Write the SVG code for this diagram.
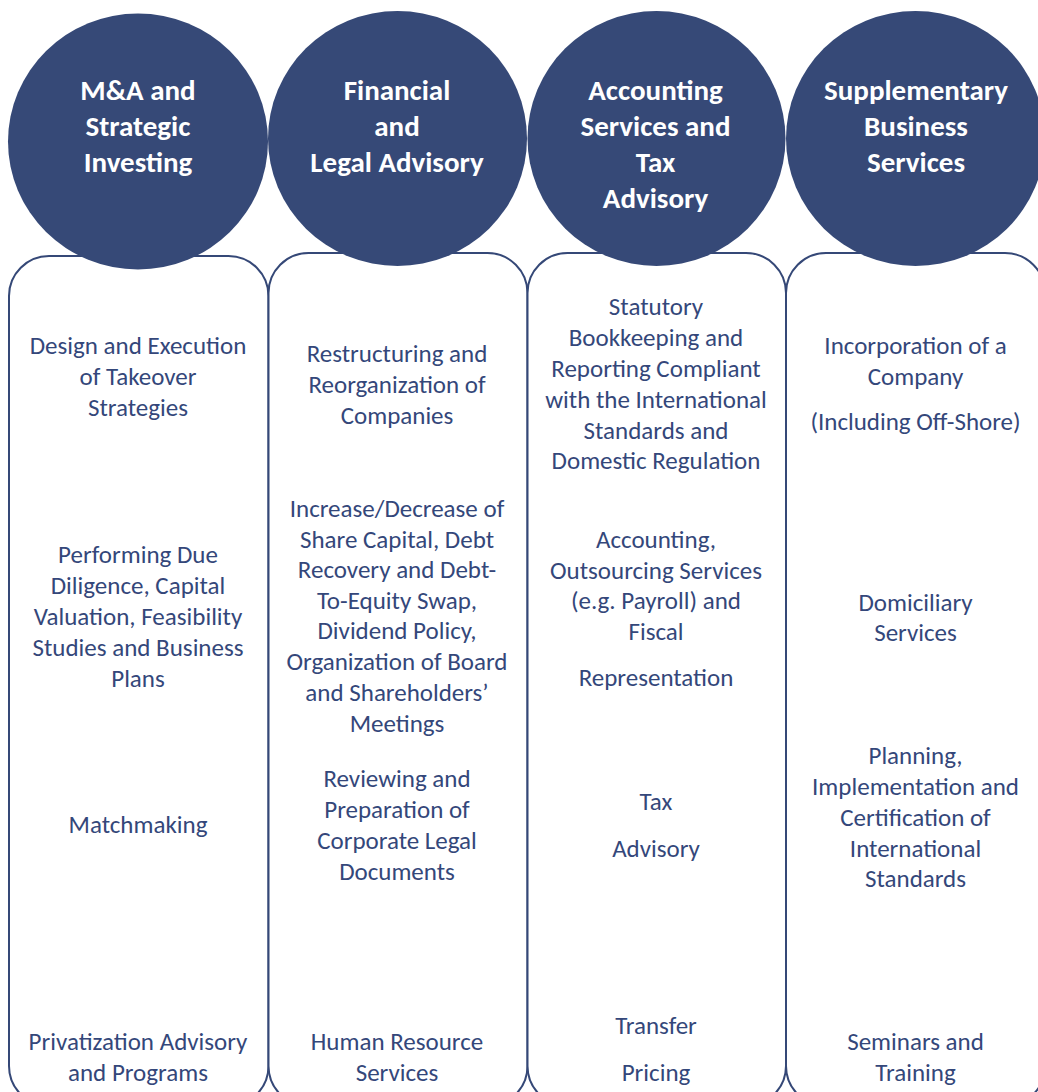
<svg xmlns="http://www.w3.org/2000/svg" width="1038" height="1092" viewBox="0 0 1038 1092">
<style>
.bg{fill:#ffffff}
.box{fill:#ffffff;stroke:#354877;stroke-width:2}
.circ{fill:#364977}
.head{font-family:Calibri,Carlito,"Liberation Sans",Arial,sans-serif;font-weight:bold;font-size:29px;fill:#ffffff;text-anchor:middle}
.body{font-family:Calibri,Carlito,"Liberation Sans",Arial,sans-serif;font-size:25px;fill:#34477a;text-anchor:middle}
</style>
<rect class="bg" x="0" y="0" width="1038" height="1092"/>

<g id="col-ma">
  <rect class="box" x="9" y="256" width="259.5" height="850" rx="40" ry="40"/>
  <ellipse class="circ" cx="138" cy="141.5" rx="130" ry="128"/>
  <text class="head"><tspan x="138" y="100">M&amp;A and</tspan><tspan x="138" y="136">Strategic</tspan><tspan x="138" y="172">Investing</tspan></text>
  <text class="body"><tspan x="138" y="354">Design and Execution</tspan><tspan x="138" y="385">of Takeover</tspan><tspan x="138" y="416">Strategies</tspan></text>
  <text class="body"><tspan x="138" y="563">Performing Due</tspan><tspan x="138" y="594">Diligence, Capital</tspan><tspan x="138" y="625">Valuation, Feasibility</tspan><tspan x="138" y="656">Studies and Business</tspan><tspan x="138" y="687">Plans</tspan></text>
  <text class="body"><tspan x="138" y="833">Matchmaking</tspan></text>
  <text class="body"><tspan x="138" y="1050">Privatization Advisory</tspan><tspan x="138" y="1081">and Programs</tspan></text>
</g>

<g id="col-fin">
  <rect class="box" x="268.5" y="253" width="259" height="853" rx="40" ry="40"/>
  <ellipse class="circ" cx="397.5" cy="138.5" rx="129.5" ry="127.5"/>
  <text class="head"><tspan x="397" y="100">Financial</tspan><tspan x="397" y="136">and</tspan><tspan x="397" y="172">Legal Advisory</tspan></text>
  <text class="body"><tspan x="397" y="362">Restructuring and</tspan><tspan x="397" y="393">Reorganization of</tspan><tspan x="397" y="424">Companies</tspan></text>
  <text class="body"><tspan x="397" y="517">Increase/Decrease of</tspan><tspan x="397" y="547.5">Share Capital, Debt</tspan><tspan x="397" y="578">Recovery and Debt-</tspan><tspan x="397" y="608.5">To-Equity Swap,</tspan><tspan x="397" y="639">Dividend Policy,</tspan><tspan x="397" y="670">Organization of Board</tspan><tspan x="397" y="700.5">and Shareholders’</tspan><tspan x="397" y="731.5">Meetings</tspan></text>
  <text class="body"><tspan x="397" y="787">Reviewing and</tspan><tspan x="397" y="818">Preparation of</tspan><tspan x="397" y="849">Corporate Legal</tspan><tspan x="397" y="880">Documents</tspan></text>
  <text class="body"><tspan x="397" y="1050">Human Resource</tspan><tspan x="397" y="1081">Services</tspan></text>
</g>

<g id="col-acc">
  <rect class="box" x="527.5" y="253" width="258.5" height="853" rx="40" ry="40"/>
  <ellipse class="circ" cx="656.5" cy="138.5" rx="129" ry="127.5"/>
  <text class="head"><tspan x="655.5" y="100">Accounting</tspan><tspan x="655.5" y="136">Services and</tspan><tspan x="655.5" y="172">Tax</tspan><tspan x="655.5" y="207.5">Advisory</tspan></text>
  <text class="body"><tspan x="656" y="315">Statutory</tspan><tspan x="656" y="346">Bookkeeping and</tspan><tspan x="656" y="377">Reporting Compliant</tspan><tspan x="656" y="408">with the International</tspan><tspan x="656" y="438.5">Standards and</tspan><tspan x="656" y="469">Domestic Regulation</tspan></text>
  <text class="body"><tspan x="656" y="548">Accounting,</tspan><tspan x="656" y="578.5">Outsourcing Services</tspan><tspan x="656" y="609">(e.g. Payroll) and</tspan><tspan x="656" y="640">Fiscal</tspan></text>
  <text class="body"><tspan x="656" y="686">Representation</tspan></text>
  <text class="body"><tspan x="656" y="810">Tax</tspan></text>
  <text class="body"><tspan x="656" y="857">Advisory</tspan></text>
  <text class="body"><tspan x="656" y="1034">Transfer</tspan></text>
  <text class="body"><tspan x="656" y="1081">Pricing</tspan></text>
</g>

<g id="col-sup">
  <rect class="box" x="786" y="253" width="259" height="853" rx="40" ry="40"/>
  <ellipse class="circ" cx="915.5" cy="138.5" rx="129.5" ry="127.5"/>
  <text class="head"><tspan x="916" y="100">Supplementary</tspan><tspan x="916" y="136">Business</tspan><tspan x="916" y="172">Services</tspan></text>
  <text class="body"><tspan x="915.5" y="354">Incorporation of a</tspan><tspan x="915.5" y="385">Company</tspan></text>
  <text class="body"><tspan x="915.5" y="430">(Including Off-Shore)</tspan></text>
  <text class="body"><tspan x="915.5" y="610.5">Domiciliary</tspan><tspan x="915.5" y="641">Services</tspan></text>
  <text class="body"><tspan x="915.5" y="764">Planning,</tspan><tspan x="915.5" y="795">Implementation and</tspan><tspan x="915.5" y="826">Certification of</tspan><tspan x="915.5" y="856.5">International</tspan><tspan x="915.5" y="887">Standards</tspan></text>
  <text class="body"><tspan x="915.5" y="1050">Seminars and</tspan><tspan x="915.5" y="1081">Training</tspan></text>
</g>
</svg>
